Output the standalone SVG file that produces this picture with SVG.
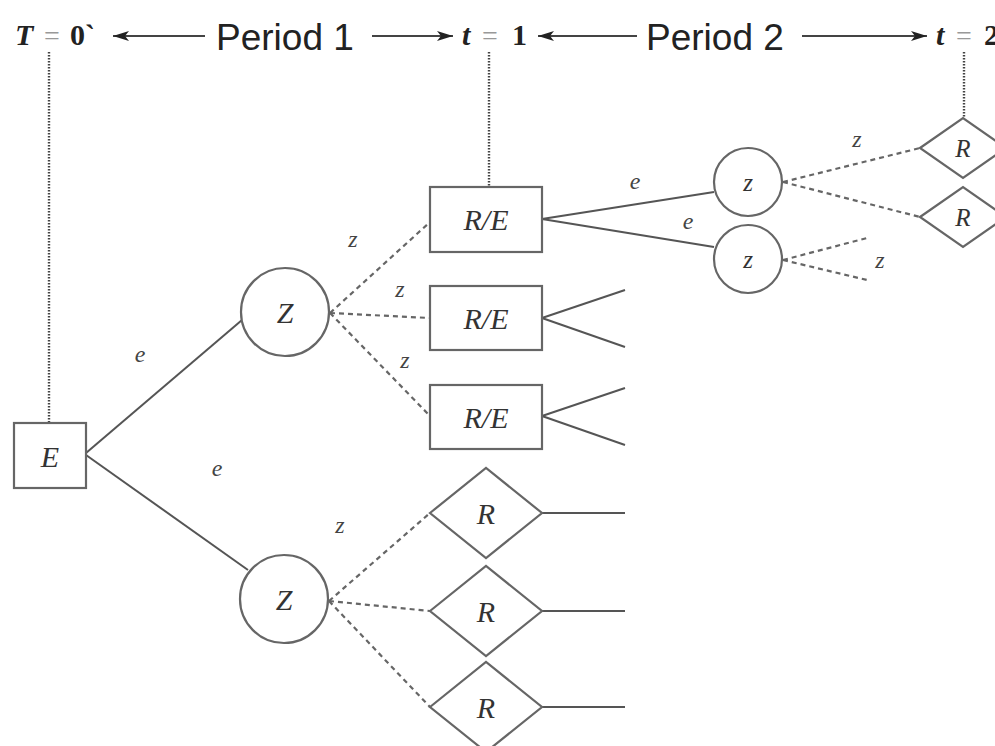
<svg xmlns="http://www.w3.org/2000/svg" width="995" height="746" viewBox="0 0 995 746">
<defs>
<marker id="ah" viewBox="0 0 16 10" refX="16" refY="5" markerWidth="16" markerHeight="10" markerUnits="userSpaceOnUse" orient="auto">
<path d="M0,0 L16,5 L0,10 L4,5 Z" fill="#222"/>
</marker>
<style>
.node{fill:#fff;stroke:#666;stroke-width:2.2}
.lbl{font-family:"Liberation Serif",serif;font-style:italic;font-size:30px;fill:#333;text-anchor:middle}
.small{font-size:25px}
.el{font-family:"Liberation Serif",serif;font-style:italic;font-size:24px;fill:#444;text-anchor:middle}
.solid{stroke:#555;stroke-width:2;fill:none}
.dash{stroke:#666;stroke-width:2.2;fill:none;stroke-dasharray:5 4}
.dot{stroke:#444;stroke-width:2.4;fill:none;stroke-dasharray:1.5 1.5}
.arr{stroke:#444;stroke-width:2;fill:none;marker-end:url(#ah)}
.per{font-family:"Liberation Sans",Arial,sans-serif;font-size:37px;fill:#222}
.math{font-family:"Liberation Serif",serif;font-weight:bold;font-size:30px;fill:#222}
.eq{font-family:"Liberation Serif",serif;font-size:28px;fill:#999}
</style>
</defs>
<rect width="995" height="746" fill="#fff"/>

<g id="header">
<text class="math" x="15" y="45" font-style="italic">T</text><text class="eq" x="44" y="45">=</text><text class="math" x="70" y="45">0`</text>
<text class="per" x="216" y="50">Period 1</text>
<text class="math" x="462" y="45" font-style="italic">t</text><text class="eq" x="482" y="45">=</text><text class="math" x="512" y="45">1</text>
<text class="per" x="646" y="50">Period 2</text>
<text class="math" x="936" y="45" font-style="italic">t</text><text class="eq" x="956" y="45">=</text><text class="math" x="984" y="45">2</text>
<line class="arr" x1="205" y1="36" x2="113" y2="36"/>
<line class="arr" x1="372" y1="36" x2="453" y2="36"/>
<line class="arr" x1="637" y1="36" x2="538" y2="36"/>
<line class="arr" x1="802" y1="36" x2="927" y2="36"/>
</g>

<g id="connectors">
<line class="dot" x1="49" y1="52" x2="49" y2="423"/>
<line class="dot" x1="489" y1="52" x2="489" y2="187"/>
<line class="dot" x1="964" y1="52" x2="964" y2="118"/>
<line class="solid" x1="86" y1="453" x2="242" y2="320"/>
<line class="solid" x1="86" y1="455" x2="248" y2="570"/>
<line class="dash" x1="330" y1="313" x2="430" y2="222"/>
<line class="dash" x1="330" y1="313" x2="430" y2="318"/>
<line class="dash" x1="330" y1="313" x2="430" y2="416"/>
<line class="dash" x1="329" y1="601" x2="430" y2="513"/>
<line class="dash" x1="329" y1="601" x2="430" y2="611"/>
<line class="dash" x1="329" y1="601" x2="430" y2="707"/>
<line class="solid" x1="542" y1="219" x2="714" y2="192"/>
<line class="solid" x1="542" y1="219" x2="714" y2="247"/>
<line class="solid" x1="542" y1="318" x2="625" y2="290"/>
<line class="solid" x1="542" y1="318" x2="625" y2="347"/>
<line class="solid" x1="542" y1="416" x2="625" y2="388"/>
<line class="solid" x1="542" y1="416" x2="625" y2="445"/>
<line class="solid" x1="542" y1="513" x2="625" y2="513"/>
<line class="solid" x1="542" y1="611" x2="625" y2="611"/>
<line class="solid" x1="542" y1="707" x2="625" y2="707"/>
<line class="dash" x1="783" y1="182" x2="920" y2="148"/>
<line class="dash" x1="783" y1="182" x2="920" y2="217"/>
<line class="dash" x1="783" y1="260" x2="867" y2="238"/>
<line class="dash" x1="783" y1="260" x2="867" y2="280"/>
<text class="el" x="140" y="362">e</text>
<text class="el" x="217" y="476">e</text>
<text class="el" x="353" y="247">z</text>
<text class="el" x="400" y="297">z</text>
<text class="el" x="405" y="368">z</text>
<text class="el" x="340" y="533">z</text>
<text class="el" x="635" y="189">e</text>
<text class="el" x="688" y="229">e</text>
<text class="el" x="857" y="147">z</text>
<text class="el" x="880" y="268">z</text>
</g>

<g id="nodeE"><rect class="node" x="14" y="423" width="72" height="65"/><text class="lbl" x="50" y="467">E</text></g>
<g id="nodeZ1"><circle class="node" cx="285" cy="312" r="44"/><text class="lbl" x="285" y="323">Z</text></g>
<g id="nodeZ2"><circle class="node" cx="284" cy="599" r="44"/><text class="lbl" x="284" y="610">Z</text></g>
<g id="nodeRE1"><rect class="node" x="430" y="187" width="112" height="65"/><text class="lbl" x="486" y="230">R/E</text></g>
<g id="nodeRE2"><rect class="node" x="430" y="286" width="112" height="64"/><text class="lbl" x="486" y="329">R/E</text></g>
<g id="nodeRE3"><rect class="node" x="430" y="385" width="112" height="64"/><text class="lbl" x="486" y="428">R/E</text></g>
<g id="nodeR1"><polygon class="node" points="430,513 486,468 542,513 486,558"/><text class="lbl" x="486" y="524">R</text></g>
<g id="nodeR2"><polygon class="node" points="430,611 486,566 542,611 486,656"/><text class="lbl" x="486" y="622">R</text></g>
<g id="nodeR3"><polygon class="node" points="430,707 486,662 542,707 486,752"/><text class="lbl" x="486" y="718">R</text></g>
<g id="nodez1"><circle class="node" cx="748" cy="182" r="34"/><text class="lbl small" x="748" y="191">z</text></g>
<g id="nodez2"><circle class="node" cx="748" cy="259" r="34"/><text class="lbl small" x="748" y="268">z</text></g>
<g id="nodeR4"><polygon class="node" points="920,148 963,118 1006,148 963,178"/><text class="lbl small" x="963" y="157">R</text></g>
<g id="nodeR5"><polygon class="node" points="920,217 963,187 1006,217 963,247"/><text class="lbl small" x="963" y="226">R</text></g>
</svg>
